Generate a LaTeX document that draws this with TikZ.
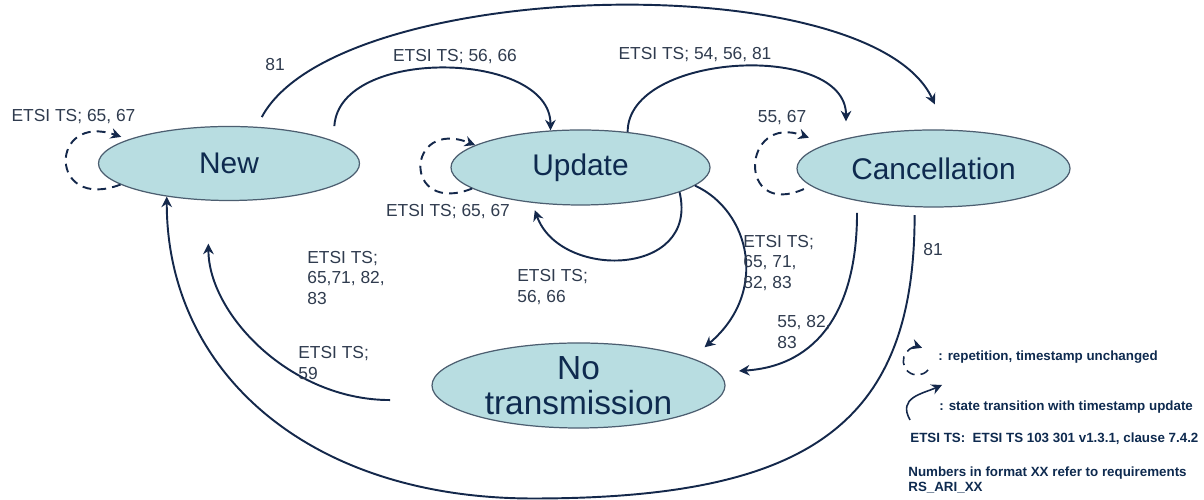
\documentclass[tikz,border=0pt]{standalone}
\usepackage{fontspec}
\setmainfont{Liberation Sans}
\usetikzlibrary{shapes.geometric,arrows.meta}
\definecolor{st}{HTML}{B8DDE1}
\definecolor{bd}{HTML}{4C5E70}
\definecolor{ar}{HTML}{14284B}
\definecolor{tx}{HTML}{0E2A4F}
\definecolor{lb}{HTML}{2F3B4E}
\tikzset{st/.style={ellipse,draw=bd,fill=st,line width=0.7pt,inner sep=0pt,text=tx,font=\fontsize{17}{19}\selectfont}}
\tikzset{tr/.style={ar,line width=1.1pt,-{Stealth[length=6pt,width=6pt]}}}
\tikzset{rp/.style={tr,dash pattern=on 5pt off 3.5pt}}
\tikzset{lb/.style={text=lb,inner sep=0pt,align=left,font=\fontsize{9.9}{11.6}\selectfont}}
\tikzset{lg/.style={text=tx,inner sep=0pt,align=left,anchor=west,font=\bfseries\fontsize{7.6}{8.3}\selectfont}}

\begin{document}
\begin{tikzpicture}
        \useasboundingbox (0,0) rectangle (24.08,10);

        \node[st,minimum width=5.22cm,minimum height=1.48cm] (new) at (4.58,6.73) {New};
        \node[st,minimum width=5.18cm,minimum height=1.5cm] (upd) at (11.61,6.65) {Update};
        \node[st,minimum width=5.46cm,minimum height=1.54cm] (can) at (18.67,6.63) {Cancellation};
        \node[st,minimum width=5.86cm,minimum height=1.7cm,align=center,font=\fontsize{19}{20}\selectfont] (notx) at (11.57,2.29) {No\\transmission};
        \coordinate (bot) at (10.66,0.03);

        \draw[tr] ([yshift=0.3cm]new.12) .. controls +(0.1,1.6) and +(0,1.6) .. (upd.129);
        \draw[tr] (upd.37) .. controls +(0,1.6) and +(0,1.6) .. ([yshift=0.34cm]can.161);
        \draw[tr] ([yshift=0.2cm]new.48) .. controls +(1.5,2.8) and +(-1.3,2.8) .. ([yshift=0.5cm]can.88);
        \draw[rp] (new.191) .. controls +(-1.45,-0.55) and +(-1.45,0.5) .. ([xshift=-0.3cm]new.164);
        \draw[rp] (upd.191) .. controls +(-1.4,-0.55) and +(-1.4,0.55) .. (upd.168);
        \draw[rp] ([xshift=-0.26cm]can.190) .. controls +(-1.35,-0.6) and +(-1.35,0.5) .. ([xshift=-0.8cm]can.160);
        \draw[tr] (upd.-14) .. controls +(0.4,-1.7) and +(0.5,-1.4) .. ([yshift=-0.14cm]upd.218);
        \draw[tr] (upd.-9) .. controls +(1.1,-0.5) and +(1.3,1.1) .. ([yshift=0.32cm]notx.10);
        \draw[tr] ([yshift=-0.24cm]can.203) .. controls +(0,-1.9) and +(1.6,0.1) .. ([xshift=0.44cm]notx.6);
        \draw[tr] ([xshift=-1.0cm]notx.186) .. controls +(-2.0,0) and +(0,-1.4) .. ([yshift=-0.86cm]new.241);
        \draw[tr] ([yshift=-0.16cm]can.244) .. controls +(0,-4.2) and +(5.5,0) .. (bot) .. controls +(-4.5,0) and +(0,-3.5) .. (new.208);

        \node[lb] (l81a) at (5.5,8.7) {81};
        \node[lb] (lnu) at (9.1,8.86) {ETSI TS; 56, 66};
        \node[lb] (luc) at (13.9,8.9) {ETSI TS; 54, 56, 81};
        \node[lb] (lnew) at (1.47,7.66) {ETSI TS; 65, 67};
        \node[lb] (lcan) at (15.64,7.64) {55, 67};
        \node[lb] (lupd) at (8.96,5.76) {ETSI TS; 65, 67};
        \node[lb,anchor=west] (luu) at (10.34,4.26) {ETSI TS;\\56, 66};
        \node[lb,anchor=west] (lun) at (14.86,4.74) {ETSI TS;\\65, 71,\\82, 83};
        \node[lb,anchor=west] (lcn) at (15.54,3.36) {55, 82,\\83};
        \node[lb,anchor=west] (lnn) at (6.14,4.44) {ETSI TS;\\65,71, 82,\\83};
        \node[lb,anchor=west] (l59) at (5.96,2.74) {ETSI TS;\\59};
        \node[lb] (l81b) at (18.66,5.0) {81};

        \coordinate (rp0) at (18.56,2.6);
        \coordinate (tr0) at (18.2,1.6);
        \coordinate (tr1) at (18.84,2.3);
        \draw[rp,line width=0.9pt] (rp0) arc[start angle=-40,end angle=-290,radius=0.28cm];
        \draw[tr,line width=0.9pt] (tr0) .. controls +(-0.25,0.45) and +(-0.4,-0.18) .. (tr1);
        \node[lg] (lrep) at (18.76,2.86) {: repetition, timestamp unchanged};
        \node[lg] (ltr) at (18.78,1.86) {: state transition with timestamp update};
        \node[lg] (lets) at (18.2,1.22) {ETSI TS:~ ETSI TS 103 301 v1.3.1, clause 7.4.2};
        \node[lg] (lnum) at (18.16,0.4) {Numbers in format XX refer to requirements\\RS\_ARI\_XX};

    \end{tikzpicture}
\end{document}
